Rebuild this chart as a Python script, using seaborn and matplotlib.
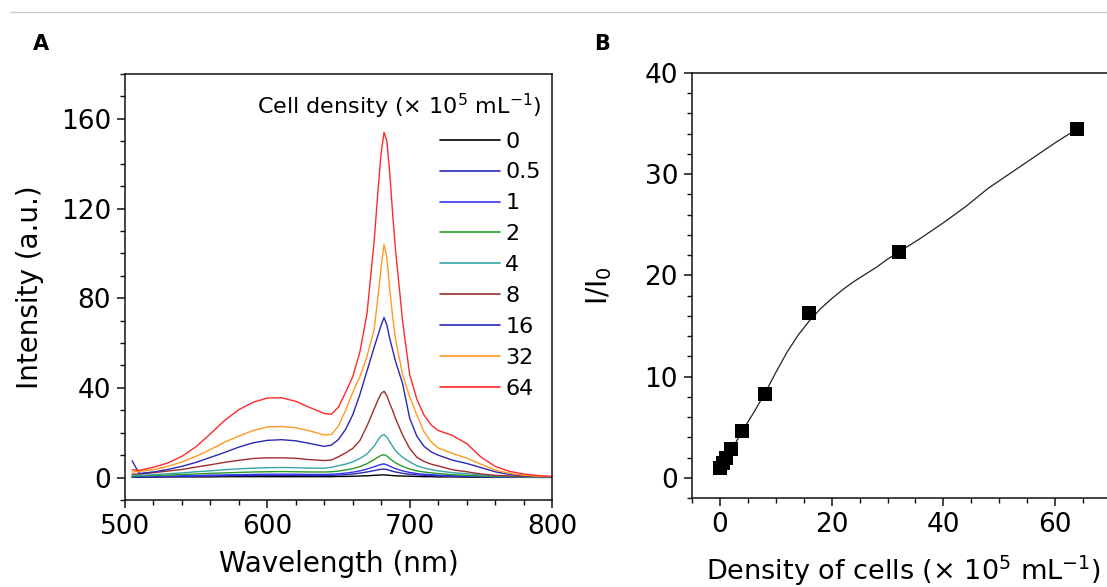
import numpy as np
import pandas as pd
import matplotlib
matplotlib.use("Agg")
import matplotlib.pyplot as plt
from matplotlib.lines import Line2D
from matplotlib.ticker import MultipleLocator
import seaborn as sns

# ---------------- data ----------------
wavelength = [505, 510, 520, 530, 540, 550, 560, 570, 580, 590, 600, 610, 620, 630, 640,
              645, 650, 655, 660, 665, 670, 675, 678, 680, 682, 684, 686, 688, 690,
              695, 700, 705, 710, 715, 720, 730, 740, 750, 760, 770, 780, 790, 800]

density_labels = ["0", "0.5", "1", "2", "4", "8", "16", "32", "64"]
line_colors = ["#000000", "#2a2ab8", "#3434f0", "#2a9a2a", "#36a3a3",
               "#a02c2c", "#2828b4", "#ff9a22", "#ff2a2a"]

int_0 = [0.2, 0.2, 0.2, 0.3, 0.3, 0.3, 0.3, 0.4, 0.4, 0.4, 0.4, 0.4, 0.4, 0.4, 0.4,
         0.4, 0.5, 0.5, 0.6, 0.7, 0.8, 1.0, 1.1, 1.2, 1.2, 1.1, 1.0, 0.9, 0.8,
         0.7, 0.6, 0.5, 0.4, 0.4, 0.3, 0.3, 0.2, 0.2, 0.2, 0.1, 0.1, 0.1, 0.1]
int_05 = [0.3, 0.3, 0.4, 0.4, 0.5, 0.6, 0.7, 0.8, 0.9, 0.9, 1.0, 1.0, 1.0, 0.9, 0.9,
          1.0, 1.1, 1.3, 1.6, 2.0, 2.5, 3.1, 3.5, 3.7, 3.8, 3.6, 3.2, 2.8, 2.5,
          1.9, 1.5, 1.2, 1.0, 0.9, 0.8, 0.6, 0.5, 0.4, 0.3, 0.2, 0.2, 0.1, 0.1]
int_1 = [0.4, 0.4, 0.5, 0.6, 0.8, 0.9, 1.1, 1.2, 1.3, 1.4, 1.5, 1.5, 1.5, 1.4, 1.4,
         1.5, 1.7, 2.0, 2.4, 3.0, 3.8, 4.8, 5.5, 5.9, 6.1, 5.7, 5.1, 4.5, 4.0,
         3.0, 2.3, 1.8, 1.5, 1.3, 1.1, 0.8, 0.6, 0.5, 0.4, 0.3, 0.2, 0.2, 0.1]
int_2 = [0.6, 0.7, 0.9, 1.1, 1.4, 1.6, 1.9, 2.1, 2.3, 2.5, 2.6, 2.7, 2.6, 2.5, 2.5,
         2.6, 2.9, 3.4, 4.0, 4.9, 6.2, 8.0, 9.2, 9.9, 10.2, 9.6, 8.5, 7.5, 6.6,
         5.0, 3.8, 3.0, 2.5, 2.1, 1.8, 1.3, 1.0, 0.7, 0.5, 0.4, 0.3, 0.2, 0.2]
int_4 = [1.0, 1.0, 1.3, 1.7, 2.1, 2.6, 3.0, 3.5, 3.9, 4.2, 4.4, 4.5, 4.4, 4.2, 4.2,
         4.6, 5.3, 6.0, 7.0, 8.5, 10.5, 14.0, 17.0, 18.6, 19.2, 18.0, 16.0, 14.0, 12.0,
         9.0, 7.0, 5.3, 4.3, 3.6, 3.0, 2.2, 1.7, 1.2, 0.8, 0.5, 0.4, 0.3, 0.2]
int_8 = [1.5, 1.6, 2.2, 2.9, 3.6, 4.7, 5.7, 6.8, 7.7, 8.5, 8.8, 8.8, 8.6, 8.0, 7.6,
         7.8, 9.3, 11.0, 13.0, 16.5, 23.0, 30.5, 35.0, 37.5, 38.5, 36.5, 33.0, 30.0, 26.5,
         19.0, 13.0, 9.1, 7.2, 6.0, 5.2, 3.5, 2.6, 1.6, 1.0, 0.7, 0.5, 0.4, 0.3]
int_16 = [7.5, 1.8, 2.5, 3.6, 5.0, 6.8, 9.0, 11.2, 13.6, 15.5, 16.6, 16.9, 16.4, 15.2, 13.9,
          14.5, 17.0, 21.5, 28.0, 37.0, 47.5, 58.0, 64.0, 68.0, 71.4, 68.0, 62.0, 57.0, 52.0,
          42.0, 26.5, 18.5, 14.0, 11.5, 10.0, 7.8, 6.3, 4.5, 2.6, 1.4, 0.8, 0.5, 0.3]
int_32 = [2.5, 2.8, 3.5, 5.0, 7.0, 9.5, 12.5, 15.8, 18.5, 21.0, 22.6, 22.8, 22.2, 20.8, 19.0,
          19.2, 23.0, 30.0, 38.0, 45.0, 54.0, 66.0, 82.0, 94.0, 104.0, 98.0, 84.0, 72.0, 62.0,
          46.0, 36.0, 28.0, 20.5, 16.0, 13.2, 10.8, 8.7, 6.0, 3.4, 1.9, 1.0, 0.6, 0.4]
int_64 = [3.5, 3.2, 4.6, 6.5, 9.5, 13.8, 19.5, 25.5, 30.3, 33.6, 35.5, 35.6, 34.0, 31.2, 28.6,
          28.2, 31.5, 38.0, 45.0, 56.0, 73.0, 105.0, 130.0, 145.0, 154.0, 150.0, 136.0, 118.0, 102.0,
          70.0, 46.0, 35.0, 28.0, 23.5, 21.0, 18.8, 15.2, 9.2, 5.0, 2.8, 1.6, 0.9, 0.5]

spectra = [int_0, int_05, int_1, int_2, int_4, int_8, int_16, int_32, int_64]

cell_density = [0, 0.5, 1, 2, 4, 8, 16, 32, 64]
ratio = [1.0, 1.5, 2.0, 2.8, 4.6, 8.3, 16.3, 22.3, 34.5]

fit_x = [0, 1, 2, 4, 6, 8, 10, 12, 14, 16, 18, 20, 22, 24, 26, 28, 30, 32,
         36, 40, 44, 48, 52, 56, 60, 64]
fit_y = [1.0, 1.8, 2.7, 4.6, 6.4, 8.3, 10.4, 12.4, 14.1, 15.5, 16.7, 17.7, 18.6, 19.4,
         20.1, 20.8, 21.6, 22.3, 23.7, 25.2, 26.8, 28.6, 30.1, 31.6, 33.1, 34.5]

# ---------------- style ----------------
sns.set_style("ticks")
plt.rcParams["font.family"] = ["DejaVu Sans"]
plt.rcParams["mathtext.fontset"] = "dejavusans"
for key in ("text.color", "axes.labelcolor", "xtick.color", "ytick.color", "axes.edgecolor"):
    plt.rcParams[key] = "black"

W, H = 1107, 587
fig = plt.figure(figsize=(W / 100, H / 100), dpi=100)
fig.patch.set_facecolor("white")

def frac(left, top, right, bottom):
    return [left / W, 1 - bottom / H, (right - left) / W, (bottom - top) / H]

axA = fig.add_axes(frac(125, 74, 552, 500))
axB = fig.add_axes(frac(692, 73, 1111, 498))

# ---------------- panel A ----------------
for lab, col, vals in zip(density_labels, line_colors, spectra):
    sns.lineplot(x=wavelength, y=vals, color=col, lw=1.0, label=lab, ax=axA)

axA.set_xlim(500, 800)
axA.set_ylim(-10, 180)
axA.xaxis.set_major_locator(MultipleLocator(100))
axA.xaxis.set_minor_locator(MultipleLocator(20))
axA.yaxis.set_major_locator(MultipleLocator(40))
axA.yaxis.set_minor_locator(MultipleLocator(10))
axA.set_xlabel("Wavelength (nm)", fontsize=20)
axA.set_ylabel("Intensity (a.u.)", fontsize=20)
axA.xaxis.set_label_coords(0.5, -0.118)
axA.yaxis.set_label_coords(-0.19, 0.5)

leg = axA.legend(title="Cell density (× 10$^5$ mL$^{-1}$)", loc="upper right",
                 bbox_to_anchor=(1.0, 0.985), frameon=False, fontsize=16,
                 title_fontsize=16, handlelength=2.7, handletextpad=0.25,
                 labelspacing=0.49, alignment="right", borderaxespad=0.1)
for ln in leg.get_lines():
    ln.set_linewidth(1.2)

# ---------------- panel B ----------------
sns.lineplot(x=fit_x, y=fit_y, color="#222222", lw=0.9, ax=axB)
sns.scatterplot(x=cell_density, y=ratio, marker="s", s=95, color="black",
                edgecolor="black", linewidth=0, ax=axB, zorder=3)
axB.set_xlim(-5, 70)
axB.set_ylim(-2, 40)
axB.xaxis.set_major_locator(MultipleLocator(20))
axB.xaxis.set_minor_locator(MultipleLocator(5))
axB.yaxis.set_major_locator(MultipleLocator(10))
axB.yaxis.set_minor_locator(MultipleLocator(2))
axB.set_xlabel("Density of cells (× 10$^5$ mL$^{-1}$)", fontsize=19.5)
axB.set_ylabel("I/I$_0$", fontsize=20)
axB.xaxis.set_label_coords(0.505, -0.13)
axB.yaxis.set_label_coords(-0.185, 0.5)

for ax in (axA, axB):
    for sp in ax.spines.values():
        sp.set_visible(True)
        sp.set_linewidth(1.1)
        sp.set_color("#111111")
    ax.tick_params(which="major", direction="out", length=6, width=1.1,
                   labelsize=19, pad=4, color="#111111", labelcolor="black",
                   top=False, right=False)
    ax.tick_params(which="minor", direction="out", length=3.5, width=1.0,
                   color="#111111", top=False, right=False)
    ax.set_facecolor("white")

# panel letters and top rule
fig.text(33 / W, 1 - 44 / H, "A", fontsize=15, fontweight="bold", va="center", ha="left",
         color="black")
fig.text(594 / W, 1 - 44 / H, "B", fontsize=15, fontweight="bold", va="center", ha="left",
         color="black")
fig.add_artist(Line2D([10 / W, 1.0], [1 - 12 / H, 1 - 12 / H], color="#c8c8c8", lw=1.0))

fig.savefig("out.png", dpi=100, facecolor="white")
